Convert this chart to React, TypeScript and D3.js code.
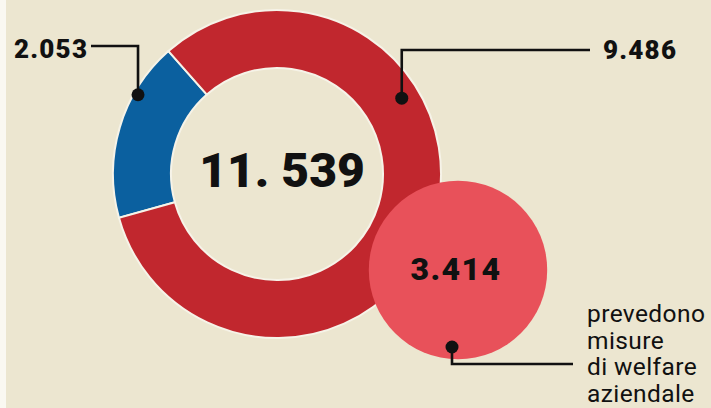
import React from "react";
import * as d3 from "d3";

const categories = ["non prevedono", "prevedono"];
const ringValues = [2053, 9486];
const totalLabel = "11. 539";
const ringLabels = ["2.053", "9.486"];
const welfareValue = 3414;
const welfareLabel = "3.414";
const welfareText = ["prevedono", "misure", "di welfare", "aziendale"];

const W = 711;
const H = 408;
const BG = "#ECE6D0";
const RED = "#C1272E";
const BLUE = "#0B609F";
const PINK = "#E8515A";
const INK = "#111111";

export default function App() {
  const cx = 277;
  const cy = 174;
  const outerR = 164;
  const innerR = 106;
  const start = (254.5 * Math.PI) / 180;

  const pie = d3
    .pie<number>()
    .sort(null)
    .value((d) => d)
    .startAngle(start)
    .endAngle(start + 2 * Math.PI);
  const arcs = pie(ringValues);
  const arc = d3.arc<d3.PieArcDatum<number>>().innerRadius(innerR).outerRadius(outerR);
  const colors = [BLUE, RED];

  const total = d3.sum(ringValues);
  const rScale = d3.scaleSqrt().domain([0, total]).range([0, outerR]);
  const pr = rScale(welfareValue);
  const px = 458;
  const py = 270;

  const polar = (deg: number, r: number) => {
    const a = (deg * Math.PI) / 180;
    return [cx + Math.sin(a) * r, cy - Math.cos(a) * r];
  };
  const [bdx, bdy] = polar(299.7, 160);
  const [rdx, rdy] = polar(58.7, 146);
  const wdx = 452;
  const wdy = 347;

  const numFont = "Roboto, 'DejaVu Sans', sans-serif";

  return (
    <svg
      width={W}
      height={H}
      style={{ position: "absolute", left: 0, top: 0, display: "block" }}
    >
      <rect x={0} y={0} width={W} height={H} fill="#FAF8F1" />
      <rect x={6} y={0} width={W - 6} height={H} fill={BG} />
      <g transform={`translate(${cx},${cy})`}>
        {arcs.map((a, i) => (
          <path
            key={categories[i]}
            d={arc(a) || ""}
            fill={colors[i]}
            stroke="#F6F3E8"
            strokeWidth={2}
          />
        ))}
      </g>
      <circle cx={px} cy={py} r={pr} fill={PINK} />

      {/* center total */}
      <text
        x={282}
        y={187}
        textAnchor="middle"
        fontFamily={numFont}
        fontWeight={900}
        fontSize={48}
        fill={INK}
      >
        {totalLabel}
      </text>

      {/* blue leader */}
      <path
        d={`M91,46 H${bdx} V${bdy}`}
        fill="none"
        stroke={INK}
        strokeWidth={2.6}
      />
      <circle cx={bdx} cy={bdy} r={6.5} fill={INK} />
      <text
        x={14}
        y={58}
        fontFamily={numFont}
        fontWeight={900}
        fontSize={26}
        letterSpacing={1.2}
        fill={INK}
      >
        {ringLabels[0]}
      </text>

      {/* red leader */}
      <path
        d={`M590,50 H${rdx} V${rdy}`}
        fill="none"
        stroke={INK}
        strokeWidth={2.6}
      />
      <circle cx={rdx} cy={rdy} r={6.5} fill={INK} />
      <text
        x={603}
        y={59}
        fontFamily={numFont}
        fontWeight={900}
        fontSize={26}
        letterSpacing={1.2}
        fill={INK}
      >
        {ringLabels[1]}
      </text>

      {/* pink circle label */}
      <text
        x={px - 2}
        y={280}
        textAnchor="middle"
        fontFamily={numFont}
        fontWeight={900}
        fontSize={32}
        letterSpacing={1.4}
        fill={INK}
      >
        {welfareLabel}
      </text>
      <path
        d={`M${wdx},${wdy} V364 H573`}
        fill="none"
        stroke={INK}
        strokeWidth={2.6}
      />
      <circle cx={wdx} cy={wdy} r={6.5} fill={INK} />
      {welfareText.map((t, i) => (
        <text
          key={t}
          x={587}
          y={322 + i * 26.7}
          fontFamily={numFont}
          fontWeight={400}
          fontSize={24.5}
          letterSpacing={0.4}
          fill={INK}
        >
          {t}
        </text>
      ))}
    </svg>
  );
}
